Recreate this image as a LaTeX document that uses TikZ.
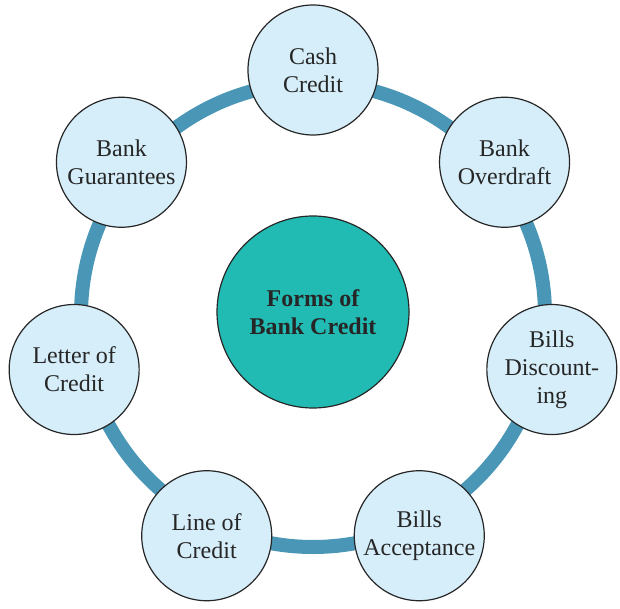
\documentclass[tikz,border=0pt]{standalone}
\usepackage{fontspec}
\setmainfont{Liberation Serif}
\usetikzlibrary{positioning}
\definecolor{ringblue}{HTML}{4A96B6}
\definecolor{paleblue}{HTML}{D6EEFA}
\definecolor{tealfill}{HTML}{22BBB3}
\tikzstyle{form} = [circle, minimum size=65pt, inner sep=0pt, align=center, draw=black!85, line width=0.6pt, fill=paleblue, text=black!85, font=\fontsize{12}{14}\selectfont]
\tikzstyle{hub} = [circle, minimum size=96pt, inner sep=0pt, align=center, draw=black!85, line width=0.6pt, fill=tealfill, text=black!85, font=\fontsize{12}{14}\selectfont\bfseries]
\tikzstyle{ring} = [line width=7pt, draw=ringblue]

\begin{document}
\begin{tikzpicture}
\useasboundingbox (-156.5pt,157.5pt) rectangle (153.5pt,-147pt);

\coordinate (o) at (0,0);
\draw [ring] (o) circle (116pt);

\node (hub) [hub] at (0pt,1.5pt) {Forms of\\Bank Credit};

\node (cash) [form] at (90:122.5pt) {Cash\\Credit};
\node (overdraft) [form] at (38.57:122.5pt) {Bank\\Overdraft};
\node (discount) [form] at (-12.86:122.5pt) {Bills\\Discount-\\ing};
\node (accept) [form] at (-64.29:122.5pt) {Bills\\Acceptance};
\node (line) [form] at (-115.71:122.5pt) {Line of\\Credit};
\node (letter) [form] at (-167.14:122.5pt) {Letter of\\Credit};
\node (guarantee) [form] at (141.43:122.5pt) {Bank\\Guarantees};

\end{tikzpicture}
\end{document}
